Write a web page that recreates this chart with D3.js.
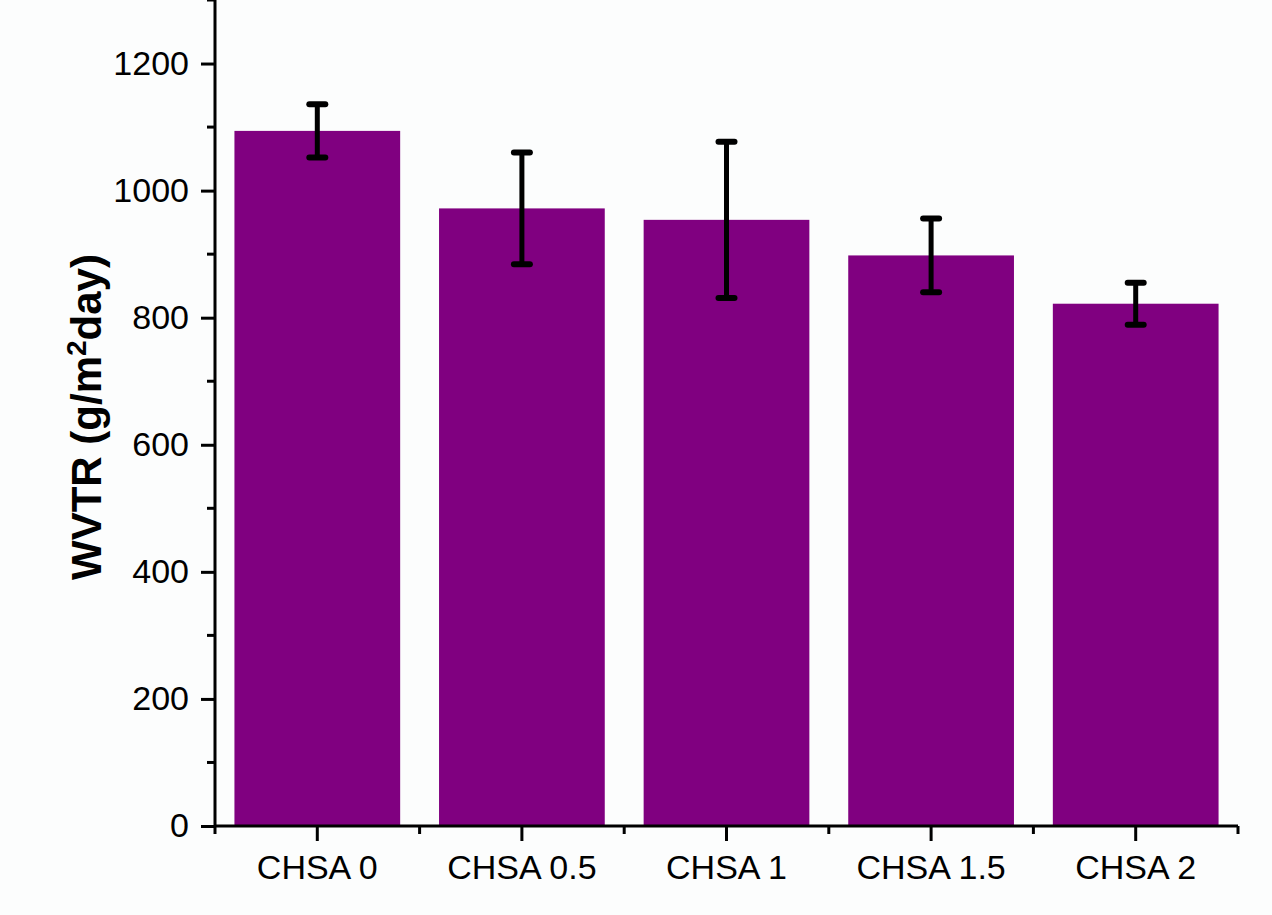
<!DOCTYPE html>
<html>
<head>
<meta charset="utf-8">
<script src="https://cdn.jsdelivr.net/npm/d3@7"></script>
<style>
  html, body { margin: 0; padding: 0; background: #fcfdfd; }
  svg { display: block; }
  text { font-family: "Liberation Sans", Arial, sans-serif; fill: #000; }
</style>
</head>
<body>
<svg id="chart" width="1272" height="915"></svg>
<script>
// Water vapour transmission rate per formulation
const categories = ["CHSA 0", "CHSA 0.5", "CHSA 1", "CHSA 1.5", "CHSA 2"];
const wvtr = [1094, 972, 954, 898, 822];
const wvtrErr = [42, 88, 123, 58, 33];
const yTicks = [0, 200, 400, 600, 800, 1000, 1200];
const yMinorTicks = [100, 300, 500, 700, 900, 1100, 1300];

const svg = d3.select("#chart");
const margin = { left: 215, right: 34, top: 0, bottom: 89 };
const W = 1272, H = 915;
const plotW = W - margin.left - margin.right;
const plotH = H - margin.top - margin.bottom;

const g = svg.append("g").attr("transform", `translate(${margin.left},${margin.top})`);

const x = d3.scaleBand().domain(categories).range([0, plotW]).paddingInner(0.19).paddingOuter(0.095);
const xOuter = d3.scaleBand().domain(categories).range([0, plotW]);
const y = d3.scaleLinear().domain([0, 1300]).range([plotH, 0]);

// bars
g.selectAll("rect.bar").data(categories).enter().append("rect")
  .attr("class", "bar")
  .attr("x", d => x(d))
  .attr("width", x.bandwidth())
  .attr("y", (d, i) => y(wvtr[i]))
  .attr("height", (d, i) => y(0) - y(wvtr[i]))
  .attr("fill", "#800080");

// error bars
const eb = g.selectAll("g.err").data(categories).enter().append("g").attr("class", "err");
const cx = d => xOuter(d) + xOuter.bandwidth() / 2;
eb.append("line")
  .attr("x1", cx).attr("x2", cx)
  .attr("y1", (d, i) => y(wvtr[i] + wvtrErr[i]))
  .attr("y2", (d, i) => y(wvtr[i] - wvtrErr[i]))
  .attr("stroke", "#000").attr("stroke-width", 5);
[1, -1].forEach(s => {
  eb.append("line")
    .attr("x1", d => cx(d) - 8).attr("x2", d => cx(d) + 8)
    .attr("y1", (d, i) => y(wvtr[i] + s * wvtrErr[i]))
    .attr("y2", (d, i) => y(wvtr[i] + s * wvtrErr[i]))
    .attr("stroke", "#000").attr("stroke-width", 6).attr("stroke-linecap", "round");
});

// y axis
const yAxis = g.append("g")
  .call(d3.axisLeft(y).tickValues(yTicks).tickSize(14).tickPadding(12).tickFormat(d3.format("d")));
yAxis.append("g").selectAll("line").data(yMinorTicks).enter().append("line")
  .attr("x1", -8).attr("x2", 0)
  .attr("y1", d => y(d)).attr("y2", d => y(d))
  .attr("stroke", "#000").attr("stroke-width", 3);

// x axis
const xAxis = g.append("g").attr("transform", `translate(0,${plotH})`)
  .call(d3.axisBottom(xOuter).tickSize(15).tickPadding(14));
xAxis.append("g").selectAll("line").data(d3.range(categories.length + 1)).enter().append("line")
  .attr("x1", i => i * xOuter.step()).attr("x2", i => i * xOuter.step())
  .attr("y1", 0).attr("y2", 8)
  .attr("stroke", "#000").attr("stroke-width", 3);

[yAxis, xAxis].forEach(a => {
  a.select(".domain").attr("stroke", "#000").attr("stroke-width", 3);
  a.selectAll(".tick line").attr("stroke", "#000").attr("stroke-width", 3);
  a.selectAll(".tick text").style("font-size", "34px").style("font-family", "'Liberation Sans', Arial, sans-serif");
});
xAxis.select(".domain").attr("d", `M0,0H${plotW}`);
yAxis.select(".domain").attr("d", `M0,${plotH}V0`);

// y axis title
const title = svg.append("text")
  .attr("transform", `translate(101,${margin.top + 417}) rotate(-90)`)
  .attr("text-anchor", "middle")
  .style("font-size", "42px").style("font-weight", "bold");
title.append("tspan").text("WVTR (g/m");
title.append("tspan").attr("dy", -15).style("font-size", "28px").text("2");
title.append("tspan").attr("dy", 15).text("day)");
</script>
</body>
</html>
